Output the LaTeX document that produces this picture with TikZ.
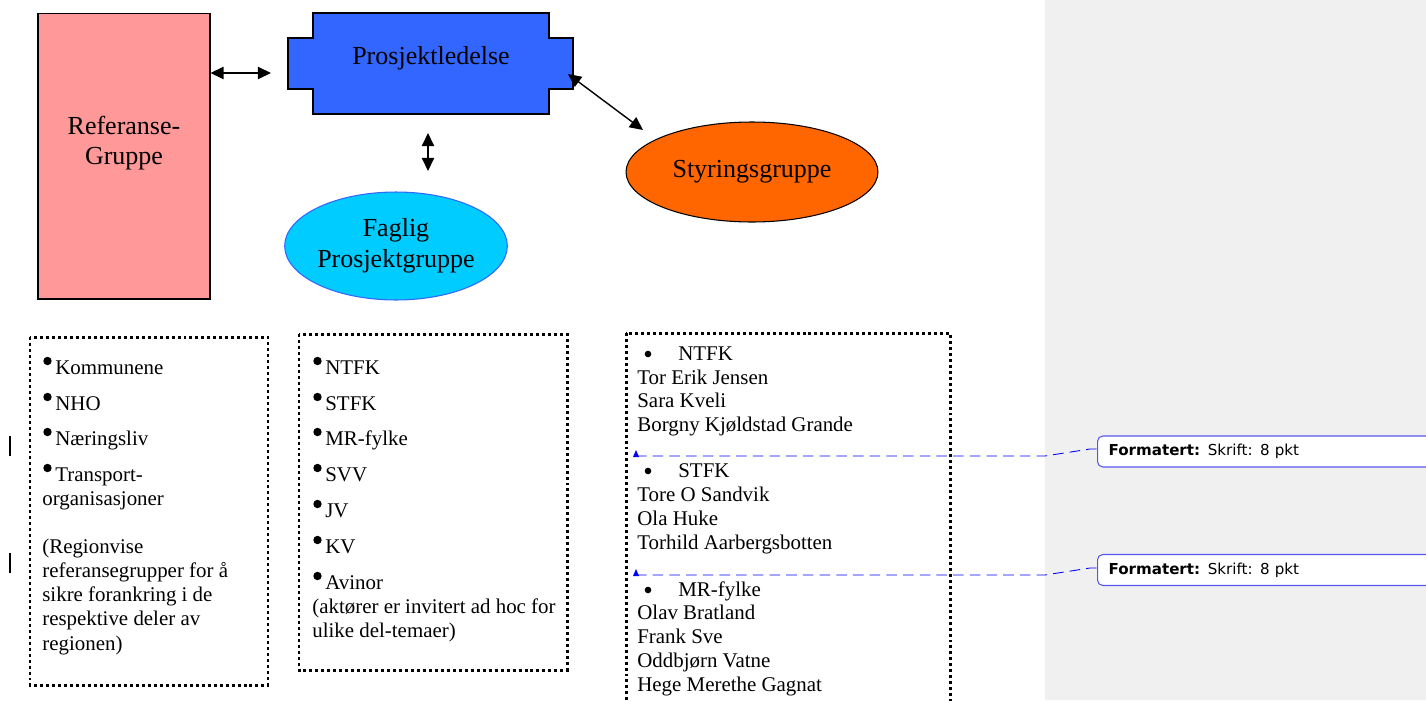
\documentclass[tikz,border=0pt]{standalone}
\usepackage{fontspec}
\setmainfont{Liberation Serif}
\newfontfamily\cmtfont{DejaVu Sans}
\usetikzlibrary{arrows.meta,shapes.geometric}
\definecolor{refpink}{HTML}{FF9999}
\definecolor{plblue}{HTML}{3366FF}
\definecolor{styorange}{HTML}{FF6600}
\definecolor{fagcyan}{HTML}{00CCFF}
\definecolor{margingray}{HTML}{F0F0F0}
\definecolor{cmtblue}{HTML}{5555F0}
\begin{document}
\begin{tikzpicture}[x=0.02cm,y=-0.02cm,
  dbl/.style={{Triangle[length=7.5pt,width=7pt]}-{Triangle[length=7.5pt,width=7pt]}, line width=0.8pt},
  big/.style={font=\fontsize{14.8}{17.5}\selectfont, align=center, inner sep=0pt},
  txt/.style={font=\fontsize{11.9}{13.6}\selectfont, anchor=base west, inner sep=0pt},
  dotbox/.style={draw, line width=1.7pt, dash pattern=on 1.7pt off 1.7pt},
  shapeline/.style={draw=black, line width=0.6pt},
  cmt/.style={draw=cmtblue, fill=white, line width=0.6pt, rounded corners=3pt, anchor=west,
     minimum width=7.06cm, minimum height=0.62cm, text width=6.7cm, align=left,
     inner xsep=0.22cm, font=\cmtfont\fontsize{8.6}{10}\selectfont},
  trk/.style={draw=blue, line width=0.5pt, dash pattern=on 6pt off 3.5pt},
  trkmark/.style={fill=blue},
  bar/.style={draw=black, line width=1.1pt},
  bigdot/.style={fill=black},
  smalldot/.style={fill=black}]
\clip (0,0) rectangle (1426,700);
\fill[white] (0,0) rectangle (1426,700);
\fill[margingray] (1045,0) rectangle (1426,700);

% Referanse-Gruppe
\node[shapeline, fill=refpink, minimum width=3.44cm, minimum height=5.72cm, inner sep=0pt] (ref) at (124,156) {};
\node[big] (reftxt) at (124,143) {Referanse-\\Gruppe};

% Prosjektledelse
\filldraw[fill=plblue, shapeline] (313,13) -- (549,13) -- (549,38) -- (573,38) -- (573,89) -- (549,89)
  -- (549,114) -- (313,114) -- (313,89) -- (288,89) -- (288,38) -- (313,38) -- cycle;
\node[big] (pl) at (431,58) {Prosjektledelse};

% Styringsgruppe
\node[ellipse, shapeline, fill=styorange, minimum width=5.04cm, minimum height=2.0cm, inner sep=0pt,
  font=\fontsize{14.8}{17.5}\selectfont] (sty) at (752,172) {Styringsgruppe};

% Faglig Prosjektgruppe
\node[ellipse, draw=plblue, line width=0.6pt, fill=fagcyan, minimum width=4.28cm, minimum height=2.16cm,
  inner sep=0pt, align=center, font=\fontsize{14.8}{17.5}\selectfont] (fag) at (396,246) {Faglig\\Prosjektgruppe};

% connectors
\coordinate (a1) at (271,73);
\draw[dbl] (ref.east |- a1) -- (a1);
\coordinate (v1) at (428,133);
\coordinate (v2) at (428,171);
\draw[dbl] (v1) -- (v2);
\coordinate (d1) at (568,74);
\coordinate (d2) at (643,130);
\draw[dbl] (d1) -- (d2);

% dotted boxes
\draw[dotbox] (30,337) rectangle (268,685);
\draw[dotbox] (299,334) rectangle (567,670);
\draw[dotbox] (626,333) rectangle (950,720);

% box 1 text
\foreach \yy in {374,410,445,481} \fill[bigdot] (47.5,\yy-13) circle (4.2);
\node[txt] (k1) at (55,374) {Kommunene};
\node[txt] (k2) at (55,410) {NHO};
\node[txt] (k3) at (55,445) {Næringsliv};
\node[txt] (k4) at (55,481) {Transport-};
\node[txt] (k5) at (42,505) {organisasjoner};
\node[txt] (k6) at (42,553) {(Regionvise};
\node[txt] (k7) at (42,577) {referansegrupper for å};
\node[txt] (k8) at (42,601) {sikre forankring i de};
\node[txt] (k9) at (42,625) {respektive deler av};
\node[txt] (k10) at (42,650) {regionen)};

% box 2 text
\foreach \yy in {374,410,445,481,517,553,589} \fill[bigdot] (317.5,\yy-13) circle (4.2);
\node[txt] (f1) at (325,374) {NTFK};
\node[txt] (f2) at (325,410) {STFK};
\node[txt] (f3) at (325,445) {MR-fylke};
\node[txt] (f4) at (325,481) {SVV};
\node[txt] (f5) at (325,517) {JV};
\node[txt] (f6) at (325,553) {KV};
\node[txt] (f7) at (325,589) {Avinor};
\node[txt] (f8) at (312,613) {(aktører er invitert ad hoc for};
\node[txt] (f9) at (312,637) {ulike del-temaer)};

% box 3 text
\foreach \yy in {360,477,596} \fill[smalldot] (648,\yy-6) circle (3.3);
\node[txt] (s1) at (678,360) {NTFK};
\node[txt] (s2) at (637,384) {Tor Erik Jensen};
\node[txt] (s3) at (637,407) {Sara Kveli};
\node[txt] (s4) at (637,431) {Borgny Kjøldstad Grande};
\node[txt] (s5) at (678,477) {STFK};
\node[txt] (s6) at (637,501) {Tore O Sandvik};
\node[txt] (s7) at (637,525) {Ola Huke};
\node[txt] (s8) at (637,549) {Torhild Aarbergsbotten};
\node[txt] (s9) at (678,596) {MR-fylke};
\node[txt] (s10) at (637,619) {Olav Bratland};
\node[txt] (s11) at (637,643) {Frank Sve};
\node[txt] (s12) at (637,667) {Oddbjørn Vatne};
\node[txt] (s13) at (637,691) {Hege Merethe Gagnat};

% change bars
\draw[bar] (10,436) -- (10,456);
\draw[bar] (10,553) -- (10,573);

% comments
\node[cmt] (c1) at (1097,451.5) {\textbf{Formatert:} Skrift: 8 pkt};
\node[cmt] (c2) at (1097,570) {\textbf{Formatert:} Skrift: 8 pkt};
\coordinate (m1) at (636,456);
\coordinate (m2) at (636,575);
\fill[trkmark] (633,457) -- (639,457) -- (636,450) -- cycle;
\fill[trkmark] (633,576) -- (639,576) -- (636,569) -- cycle;
\draw[trk] (m1) -- (1045,456) -- (1090,449) -- (c1.west |- 0,449);
\draw[trk] (m2) -- (1045,575) -- (1090,568) -- (c2.west |- 0,568);
\end{tikzpicture}
\end{document}
